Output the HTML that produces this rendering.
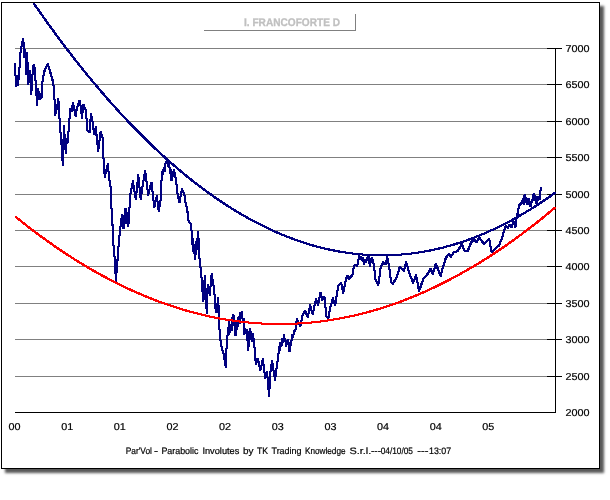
<!DOCTYPE html>
<html><head><meta charset="utf-8"><title>I. FRANCOFORTE D</title>
<style>
html,body{margin:0;padding:0;background:#fff;}
body{width:610px;height:500px;position:relative;overflow:hidden;font-family:"Liberation Sans",Arial,sans-serif;}
#frame{position:absolute;left:1px;top:2px;width:597px;height:465px;border:1px solid #000;background:#fff;box-shadow:4px 4px 2.5px 0 #585858;}
svg{position:absolute;left:0;top:0;}
svg text{font-family:"Liberation Sans",Arial,sans-serif;font-size:10px;fill:#000;text-rendering:geometricPrecision;stroke:#000;stroke-width:0.2px;}
</style></head><body>
<div id="frame"></div>
<svg width="610" height="500" viewBox="0 0 610 500">
<g shape-rendering="crispEdges">
<line x1="15" y1="48.5" x2="547" y2="48.5" stroke="#808080"/><line x1="15" y1="84.5" x2="547" y2="84.5" stroke="#808080"/><line x1="15" y1="121.5" x2="547" y2="121.5" stroke="#808080"/><line x1="15" y1="157.5" x2="547" y2="157.5" stroke="#808080"/><line x1="15" y1="194.5" x2="547" y2="194.5" stroke="#808080"/><line x1="15" y1="230.5" x2="547" y2="230.5" stroke="#808080"/><line x1="15" y1="266.5" x2="547" y2="266.5" stroke="#808080"/><line x1="15" y1="303.5" x2="547" y2="303.5" stroke="#808080"/><line x1="15" y1="339.5" x2="547" y2="339.5" stroke="#808080"/><line x1="15" y1="376.5" x2="547" y2="376.5" stroke="#808080"/>
<line x1="547" y1="48.5" x2="562" y2="48.5" stroke="#000"/><line x1="547" y1="84.5" x2="562" y2="84.5" stroke="#000"/><line x1="547" y1="121.5" x2="562" y2="121.5" stroke="#000"/><line x1="547" y1="157.5" x2="562" y2="157.5" stroke="#000"/><line x1="547" y1="194.5" x2="562" y2="194.5" stroke="#000"/><line x1="547" y1="230.5" x2="562" y2="230.5" stroke="#000"/><line x1="547" y1="266.5" x2="562" y2="266.5" stroke="#000"/><line x1="547" y1="303.5" x2="562" y2="303.5" stroke="#000"/><line x1="547" y1="339.5" x2="562" y2="339.5" stroke="#000"/><line x1="547" y1="376.5" x2="562" y2="376.5" stroke="#000"/>
<line x1="15" y1="412.5" x2="556" y2="412.5" stroke="#000"/>
<line x1="555.5" y1="48" x2="555.5" y2="413" stroke="#000"/>
<line x1="204" y1="30.5" x2="356" y2="30.5" stroke="#808080"/>
<line x1="355.5" y1="14" x2="355.5" y2="31" stroke="#808080"/>
</g>
<g shape-rendering="crispEdges" fill="none" stroke-width="1" stroke-linejoin="round" stroke-linecap="square">
<polyline transform="translate(-0.5,-0.5)" stroke="#000080" points="14.9,64.0 15.3,73.0 16.5,86.3 17.3,75.7 18.0,85.3 18.8,76.7 19.8,64.0 20.5,53.0 22.3,41.8 23.3,39.1 24.5,57.3 25.3,49.7 26.3,74.3 27.3,53.2 28.0,83.8 29.7,70.7 31.3,93.7 32.5,75.0 33.6,64.7 34.6,68.0 36.0,86.5 36.5,95.0 37.0,105.3 37.8,88.7 38.6,99.3 39.3,91.7 40.0,98.6 41.5,97.4 42.0,84.6 43.9,72.8 45.4,68.4 47.9,64.2 49.8,70.8 52.3,78.7 53.8,87.5 54.7,102.3 55.0,114.8 57.0,108.0 58.4,99.1 59.5,118.5 60.3,129.0 60.8,138.3 61.3,134.7 61.6,149.0 62.8,164.6 63.4,142.0 64.3,126.1 64.9,149.3 65.4,140.7 65.9,152.8 66.8,138.7 67.4,143.3 68.2,135.0 69.2,125.0 70.0,109.4 71.5,111.3 73.1,103.0 74.5,110.0 75.6,115.8 77.0,108.0 79.5,101.0 80.8,107.0 82.0,117.8 83.4,104.5 85.9,110.6 87.4,130.3 89.8,132.3 90.8,114.3 92.3,119.5 94.2,134.5 95.7,127.1 97.2,141.7 98.2,150.8 100.6,132.1 103.1,139.7 103.6,162.4 104.8,176.9 107.8,164.1 109.3,179.6 110.7,187.4 111.2,204.0 112.2,218.7 113.7,249.0 114.7,258.8 115.9,280.7 117.6,258.8 118.6,245.0 119.6,234.4 121.0,222.6 122.0,215.0 122.7,224.0 123.5,228.8 124.0,215.7 124.6,223.3 125.5,208.1 126.2,221.3 126.9,212.7 127.6,225.0 128.4,225.8 129.0,212.0 129.9,204.0 130.4,194.3 132.9,181.3 135.8,199.5 138.3,174.9 140.7,199.5 142.7,185.5 145.2,170.9 148.1,194.6 151.5,182.2 154.3,207.5 156.8,196.1 158.8,211.4 160.7,199.0 161.7,176.5 162.3,171.7 163.0,173.8 163.7,168.4 164.6,170.8 165.4,163.5 166.1,162.3 167.1,161.0 168.2,165.8 168.8,164.2 169.6,167.7 170.2,173.3 170.8,169.7 171.5,180.8 174.0,169.9 176.0,179.5 177.4,193.3 179.4,202.6 181.9,189.0 184.3,194.2 185.3,201.8 187.3,209.7 188.3,220.5 190.7,223.9 191.7,232.3 191.9,244.0 192.8,238.7 193.3,251.3 194.0,244.7 194.8,258.8 195.4,246.7 196.0,254.3 196.6,238.7 197.2,249.3 197.8,231.5 198.3,244.3 198.8,238.7 199.3,256.5 201.2,273.3 202.4,289.7 203.4,301.7 204.8,275.7 206.8,313.5 207.8,285.4 209.7,294.8 211.7,274.1 214.2,289.7 215.6,309.3 216.6,312.5 218.1,298.2 219.1,316.2 219.7,334.5 221.7,348.3 223.7,354.0 225.8,367.5 226.1,354.0 227.2,340.0 228.1,328.3 228.6,334.3 229.1,322.4 230.0,332.3 230.8,324.7 231.6,330.3 232.5,318.0 233.5,315.0 234.3,325.3 235.0,320.7 235.5,335.8 236.5,322.7 237.3,329.3 238.2,318.0 238.9,317.0 239.6,323.3 240.5,313.0 241.9,312.1 242.8,321.3 243.5,318.7 244.3,333.8 245.3,328.7 246.0,333.3 246.8,330.3 247.5,340.0 248.3,350.5 249.0,338.0 249.7,329.3 250.5,339.3 251.3,331.7 252.2,341.3 253.2,334.2 254.0,344.0 254.7,348.3 255.8,364.5 257.5,358.1 260.5,369.9 262.8,359.1 265.2,378.3 267.1,372.3 269.1,396.5 270.6,369.7 272.1,361.1 275.1,380.3 277.0,364.8 278.5,354.0 279.0,346.7 279.6,350.3 280.6,342.3 281.4,346.3 282.2,338.7 283.0,342.3 284.1,335.0 284.8,341.3 285.4,338.7 286.0,345.8 286.8,340.7 287.4,344.3 288.0,340.4 288.8,347.0 289.5,351.7 290.3,342.7 291.0,345.3 292.0,335.4 293.0,337.3 294.4,330.5 295.3,331.3 296.9,318.7 300.3,326.5 302.8,314.4 305.2,311.2 307.7,317.2 310.2,305.3 312.6,314.2 316.0,299.4 318.0,305.3 320.5,292.5 322.4,299.9 324.4,296.4 326.4,316.4 328.3,318.6 329.8,309.5 332.8,298.4 335.2,305.3 338.2,285.9 341.1,282.7 343.3,292.8 345.9,279.4 347.4,275.7 348.8,278.7 352.3,275.5 353.8,266.6 355.7,264.4 357.2,265.9 359.2,256.3 360.0,259.3 360.8,257.0 361.8,260.3 362.6,258.2 364.1,264.0 365.0,260.2 365.8,261.8 366.8,258.2 367.6,259.8 368.5,256.3 369.2,262.0 370.0,265.9 371.0,260.0 372.0,257.8 373.9,264.7 375.4,279.4 378.3,285.1 380.8,266.6 383.3,262.4 384.2,264.3 385.0,262.7 385.7,264.0 387.2,256.8 389.2,266.6 391.1,282.4 393.1,283.6 396.5,277.4 399.9,266.8 403.8,270.8 406.3,262.4 409.7,274.5 413.2,282.6 416.1,275.2 419.1,291.0 423.5,278.4 427.0,275.0 430.4,268.8 432.9,273.8 435.8,263.9 440.7,275.8 443.2,266.1 446.1,257.3 449.1,254.1 451.0,256.6 454.0,251.9 457.4,251.4 461.8,244.2 464.3,250.4 467.7,251.2 471.1,242.5 474.1,239.3 476.5,242.8 479.0,237.3 483.9,243.8 489.3,238.8 491.3,251.4 492.3,252.2 497.2,246.5 499.2,245.5 502.1,237.6 504.0,231.0 505.6,226.2 508.1,227.7 509.5,224.2 511.5,227.1 513.5,221.3 515.5,227.1 516.5,219.0 517.4,214.7 518.9,205.8 520.5,204.0 522.1,202.5 523.0,198.7 523.6,203.8 524.3,196.0 525.1,195.4 525.7,202.3 526.3,198.2 527.0,203.8 527.7,198.7 528.5,198.6 529.3,203.5 530.5,206.7 531.5,202.0 532.4,200.6 533.1,195.0 533.9,194.4 534.5,200.3 535.2,196.2 535.9,202.5 536.9,202.8 537.5,196.7 538.2,200.3 538.8,197.3 539.5,199.3 540.2,192.0 540.8,188.3"/>
<polyline transform="translate(0.5,-0.5)" stroke="#000080" points="14.9,64.0 15.3,73.0 16.5,86.3 17.3,75.7 18.0,85.3 18.8,76.7 19.8,64.0 20.5,53.0 22.3,41.8 23.3,39.1 24.5,57.3 25.3,49.7 26.3,74.3 27.3,53.2 28.0,83.8 29.7,70.7 31.3,93.7 32.5,75.0 33.6,64.7 34.6,68.0 36.0,86.5 36.5,95.0 37.0,105.3 37.8,88.7 38.6,99.3 39.3,91.7 40.0,98.6 41.5,97.4 42.0,84.6 43.9,72.8 45.4,68.4 47.9,64.2 49.8,70.8 52.3,78.7 53.8,87.5 54.7,102.3 55.0,114.8 57.0,108.0 58.4,99.1 59.5,118.5 60.3,129.0 60.8,138.3 61.3,134.7 61.6,149.0 62.8,164.6 63.4,142.0 64.3,126.1 64.9,149.3 65.4,140.7 65.9,152.8 66.8,138.7 67.4,143.3 68.2,135.0 69.2,125.0 70.0,109.4 71.5,111.3 73.1,103.0 74.5,110.0 75.6,115.8 77.0,108.0 79.5,101.0 80.8,107.0 82.0,117.8 83.4,104.5 85.9,110.6 87.4,130.3 89.8,132.3 90.8,114.3 92.3,119.5 94.2,134.5 95.7,127.1 97.2,141.7 98.2,150.8 100.6,132.1 103.1,139.7 103.6,162.4 104.8,176.9 107.8,164.1 109.3,179.6 110.7,187.4 111.2,204.0 112.2,218.7 113.7,249.0 114.7,258.8 115.9,280.7 117.6,258.8 118.6,245.0 119.6,234.4 121.0,222.6 122.0,215.0 122.7,224.0 123.5,228.8 124.0,215.7 124.6,223.3 125.5,208.1 126.2,221.3 126.9,212.7 127.6,225.0 128.4,225.8 129.0,212.0 129.9,204.0 130.4,194.3 132.9,181.3 135.8,199.5 138.3,174.9 140.7,199.5 142.7,185.5 145.2,170.9 148.1,194.6 151.5,182.2 154.3,207.5 156.8,196.1 158.8,211.4 160.7,199.0 161.7,176.5 162.3,171.7 163.0,173.8 163.7,168.4 164.6,170.8 165.4,163.5 166.1,162.3 167.1,161.0 168.2,165.8 168.8,164.2 169.6,167.7 170.2,173.3 170.8,169.7 171.5,180.8 174.0,169.9 176.0,179.5 177.4,193.3 179.4,202.6 181.9,189.0 184.3,194.2 185.3,201.8 187.3,209.7 188.3,220.5 190.7,223.9 191.7,232.3 191.9,244.0 192.8,238.7 193.3,251.3 194.0,244.7 194.8,258.8 195.4,246.7 196.0,254.3 196.6,238.7 197.2,249.3 197.8,231.5 198.3,244.3 198.8,238.7 199.3,256.5 201.2,273.3 202.4,289.7 203.4,301.7 204.8,275.7 206.8,313.5 207.8,285.4 209.7,294.8 211.7,274.1 214.2,289.7 215.6,309.3 216.6,312.5 218.1,298.2 219.1,316.2 219.7,334.5 221.7,348.3 223.7,354.0 225.8,367.5 226.1,354.0 227.2,340.0 228.1,328.3 228.6,334.3 229.1,322.4 230.0,332.3 230.8,324.7 231.6,330.3 232.5,318.0 233.5,315.0 234.3,325.3 235.0,320.7 235.5,335.8 236.5,322.7 237.3,329.3 238.2,318.0 238.9,317.0 239.6,323.3 240.5,313.0 241.9,312.1 242.8,321.3 243.5,318.7 244.3,333.8 245.3,328.7 246.0,333.3 246.8,330.3 247.5,340.0 248.3,350.5 249.0,338.0 249.7,329.3 250.5,339.3 251.3,331.7 252.2,341.3 253.2,334.2 254.0,344.0 254.7,348.3 255.8,364.5 257.5,358.1 260.5,369.9 262.8,359.1 265.2,378.3 267.1,372.3 269.1,396.5 270.6,369.7 272.1,361.1 275.1,380.3 277.0,364.8 278.5,354.0 279.0,346.7 279.6,350.3 280.6,342.3 281.4,346.3 282.2,338.7 283.0,342.3 284.1,335.0 284.8,341.3 285.4,338.7 286.0,345.8 286.8,340.7 287.4,344.3 288.0,340.4 288.8,347.0 289.5,351.7 290.3,342.7 291.0,345.3 292.0,335.4 293.0,337.3 294.4,330.5 295.3,331.3 296.9,318.7 300.3,326.5 302.8,314.4 305.2,311.2 307.7,317.2 310.2,305.3 312.6,314.2 316.0,299.4 318.0,305.3 320.5,292.5 322.4,299.9 324.4,296.4 326.4,316.4 328.3,318.6 329.8,309.5 332.8,298.4 335.2,305.3 338.2,285.9 341.1,282.7 343.3,292.8 345.9,279.4 347.4,275.7 348.8,278.7 352.3,275.5 353.8,266.6 355.7,264.4 357.2,265.9 359.2,256.3 360.0,259.3 360.8,257.0 361.8,260.3 362.6,258.2 364.1,264.0 365.0,260.2 365.8,261.8 366.8,258.2 367.6,259.8 368.5,256.3 369.2,262.0 370.0,265.9 371.0,260.0 372.0,257.8 373.9,264.7 375.4,279.4 378.3,285.1 380.8,266.6 383.3,262.4 384.2,264.3 385.0,262.7 385.7,264.0 387.2,256.8 389.2,266.6 391.1,282.4 393.1,283.6 396.5,277.4 399.9,266.8 403.8,270.8 406.3,262.4 409.7,274.5 413.2,282.6 416.1,275.2 419.1,291.0 423.5,278.4 427.0,275.0 430.4,268.8 432.9,273.8 435.8,263.9 440.7,275.8 443.2,266.1 446.1,257.3 449.1,254.1 451.0,256.6 454.0,251.9 457.4,251.4 461.8,244.2 464.3,250.4 467.7,251.2 471.1,242.5 474.1,239.3 476.5,242.8 479.0,237.3 483.9,243.8 489.3,238.8 491.3,251.4 492.3,252.2 497.2,246.5 499.2,245.5 502.1,237.6 504.0,231.0 505.6,226.2 508.1,227.7 509.5,224.2 511.5,227.1 513.5,221.3 515.5,227.1 516.5,219.0 517.4,214.7 518.9,205.8 520.5,204.0 522.1,202.5 523.0,198.7 523.6,203.8 524.3,196.0 525.1,195.4 525.7,202.3 526.3,198.2 527.0,203.8 527.7,198.7 528.5,198.6 529.3,203.5 530.5,206.7 531.5,202.0 532.4,200.6 533.1,195.0 533.9,194.4 534.5,200.3 535.2,196.2 535.9,202.5 536.9,202.8 537.5,196.7 538.2,200.3 538.8,197.3 539.5,199.3 540.2,192.0 540.8,188.3"/>
<polyline transform="translate(-0.5,0.5)" stroke="#000080" points="14.9,64.0 15.3,73.0 16.5,86.3 17.3,75.7 18.0,85.3 18.8,76.7 19.8,64.0 20.5,53.0 22.3,41.8 23.3,39.1 24.5,57.3 25.3,49.7 26.3,74.3 27.3,53.2 28.0,83.8 29.7,70.7 31.3,93.7 32.5,75.0 33.6,64.7 34.6,68.0 36.0,86.5 36.5,95.0 37.0,105.3 37.8,88.7 38.6,99.3 39.3,91.7 40.0,98.6 41.5,97.4 42.0,84.6 43.9,72.8 45.4,68.4 47.9,64.2 49.8,70.8 52.3,78.7 53.8,87.5 54.7,102.3 55.0,114.8 57.0,108.0 58.4,99.1 59.5,118.5 60.3,129.0 60.8,138.3 61.3,134.7 61.6,149.0 62.8,164.6 63.4,142.0 64.3,126.1 64.9,149.3 65.4,140.7 65.9,152.8 66.8,138.7 67.4,143.3 68.2,135.0 69.2,125.0 70.0,109.4 71.5,111.3 73.1,103.0 74.5,110.0 75.6,115.8 77.0,108.0 79.5,101.0 80.8,107.0 82.0,117.8 83.4,104.5 85.9,110.6 87.4,130.3 89.8,132.3 90.8,114.3 92.3,119.5 94.2,134.5 95.7,127.1 97.2,141.7 98.2,150.8 100.6,132.1 103.1,139.7 103.6,162.4 104.8,176.9 107.8,164.1 109.3,179.6 110.7,187.4 111.2,204.0 112.2,218.7 113.7,249.0 114.7,258.8 115.9,280.7 117.6,258.8 118.6,245.0 119.6,234.4 121.0,222.6 122.0,215.0 122.7,224.0 123.5,228.8 124.0,215.7 124.6,223.3 125.5,208.1 126.2,221.3 126.9,212.7 127.6,225.0 128.4,225.8 129.0,212.0 129.9,204.0 130.4,194.3 132.9,181.3 135.8,199.5 138.3,174.9 140.7,199.5 142.7,185.5 145.2,170.9 148.1,194.6 151.5,182.2 154.3,207.5 156.8,196.1 158.8,211.4 160.7,199.0 161.7,176.5 162.3,171.7 163.0,173.8 163.7,168.4 164.6,170.8 165.4,163.5 166.1,162.3 167.1,161.0 168.2,165.8 168.8,164.2 169.6,167.7 170.2,173.3 170.8,169.7 171.5,180.8 174.0,169.9 176.0,179.5 177.4,193.3 179.4,202.6 181.9,189.0 184.3,194.2 185.3,201.8 187.3,209.7 188.3,220.5 190.7,223.9 191.7,232.3 191.9,244.0 192.8,238.7 193.3,251.3 194.0,244.7 194.8,258.8 195.4,246.7 196.0,254.3 196.6,238.7 197.2,249.3 197.8,231.5 198.3,244.3 198.8,238.7 199.3,256.5 201.2,273.3 202.4,289.7 203.4,301.7 204.8,275.7 206.8,313.5 207.8,285.4 209.7,294.8 211.7,274.1 214.2,289.7 215.6,309.3 216.6,312.5 218.1,298.2 219.1,316.2 219.7,334.5 221.7,348.3 223.7,354.0 225.8,367.5 226.1,354.0 227.2,340.0 228.1,328.3 228.6,334.3 229.1,322.4 230.0,332.3 230.8,324.7 231.6,330.3 232.5,318.0 233.5,315.0 234.3,325.3 235.0,320.7 235.5,335.8 236.5,322.7 237.3,329.3 238.2,318.0 238.9,317.0 239.6,323.3 240.5,313.0 241.9,312.1 242.8,321.3 243.5,318.7 244.3,333.8 245.3,328.7 246.0,333.3 246.8,330.3 247.5,340.0 248.3,350.5 249.0,338.0 249.7,329.3 250.5,339.3 251.3,331.7 252.2,341.3 253.2,334.2 254.0,344.0 254.7,348.3 255.8,364.5 257.5,358.1 260.5,369.9 262.8,359.1 265.2,378.3 267.1,372.3 269.1,396.5 270.6,369.7 272.1,361.1 275.1,380.3 277.0,364.8 278.5,354.0 279.0,346.7 279.6,350.3 280.6,342.3 281.4,346.3 282.2,338.7 283.0,342.3 284.1,335.0 284.8,341.3 285.4,338.7 286.0,345.8 286.8,340.7 287.4,344.3 288.0,340.4 288.8,347.0 289.5,351.7 290.3,342.7 291.0,345.3 292.0,335.4 293.0,337.3 294.4,330.5 295.3,331.3 296.9,318.7 300.3,326.5 302.8,314.4 305.2,311.2 307.7,317.2 310.2,305.3 312.6,314.2 316.0,299.4 318.0,305.3 320.5,292.5 322.4,299.9 324.4,296.4 326.4,316.4 328.3,318.6 329.8,309.5 332.8,298.4 335.2,305.3 338.2,285.9 341.1,282.7 343.3,292.8 345.9,279.4 347.4,275.7 348.8,278.7 352.3,275.5 353.8,266.6 355.7,264.4 357.2,265.9 359.2,256.3 360.0,259.3 360.8,257.0 361.8,260.3 362.6,258.2 364.1,264.0 365.0,260.2 365.8,261.8 366.8,258.2 367.6,259.8 368.5,256.3 369.2,262.0 370.0,265.9 371.0,260.0 372.0,257.8 373.9,264.7 375.4,279.4 378.3,285.1 380.8,266.6 383.3,262.4 384.2,264.3 385.0,262.7 385.7,264.0 387.2,256.8 389.2,266.6 391.1,282.4 393.1,283.6 396.5,277.4 399.9,266.8 403.8,270.8 406.3,262.4 409.7,274.5 413.2,282.6 416.1,275.2 419.1,291.0 423.5,278.4 427.0,275.0 430.4,268.8 432.9,273.8 435.8,263.9 440.7,275.8 443.2,266.1 446.1,257.3 449.1,254.1 451.0,256.6 454.0,251.9 457.4,251.4 461.8,244.2 464.3,250.4 467.7,251.2 471.1,242.5 474.1,239.3 476.5,242.8 479.0,237.3 483.9,243.8 489.3,238.8 491.3,251.4 492.3,252.2 497.2,246.5 499.2,245.5 502.1,237.6 504.0,231.0 505.6,226.2 508.1,227.7 509.5,224.2 511.5,227.1 513.5,221.3 515.5,227.1 516.5,219.0 517.4,214.7 518.9,205.8 520.5,204.0 522.1,202.5 523.0,198.7 523.6,203.8 524.3,196.0 525.1,195.4 525.7,202.3 526.3,198.2 527.0,203.8 527.7,198.7 528.5,198.6 529.3,203.5 530.5,206.7 531.5,202.0 532.4,200.6 533.1,195.0 533.9,194.4 534.5,200.3 535.2,196.2 535.9,202.5 536.9,202.8 537.5,196.7 538.2,200.3 538.8,197.3 539.5,199.3 540.2,192.0 540.8,188.3"/>
<polyline transform="translate(0.5,0.5)" stroke="#000080" points="14.9,64.0 15.3,73.0 16.5,86.3 17.3,75.7 18.0,85.3 18.8,76.7 19.8,64.0 20.5,53.0 22.3,41.8 23.3,39.1 24.5,57.3 25.3,49.7 26.3,74.3 27.3,53.2 28.0,83.8 29.7,70.7 31.3,93.7 32.5,75.0 33.6,64.7 34.6,68.0 36.0,86.5 36.5,95.0 37.0,105.3 37.8,88.7 38.6,99.3 39.3,91.7 40.0,98.6 41.5,97.4 42.0,84.6 43.9,72.8 45.4,68.4 47.9,64.2 49.8,70.8 52.3,78.7 53.8,87.5 54.7,102.3 55.0,114.8 57.0,108.0 58.4,99.1 59.5,118.5 60.3,129.0 60.8,138.3 61.3,134.7 61.6,149.0 62.8,164.6 63.4,142.0 64.3,126.1 64.9,149.3 65.4,140.7 65.9,152.8 66.8,138.7 67.4,143.3 68.2,135.0 69.2,125.0 70.0,109.4 71.5,111.3 73.1,103.0 74.5,110.0 75.6,115.8 77.0,108.0 79.5,101.0 80.8,107.0 82.0,117.8 83.4,104.5 85.9,110.6 87.4,130.3 89.8,132.3 90.8,114.3 92.3,119.5 94.2,134.5 95.7,127.1 97.2,141.7 98.2,150.8 100.6,132.1 103.1,139.7 103.6,162.4 104.8,176.9 107.8,164.1 109.3,179.6 110.7,187.4 111.2,204.0 112.2,218.7 113.7,249.0 114.7,258.8 115.9,280.7 117.6,258.8 118.6,245.0 119.6,234.4 121.0,222.6 122.0,215.0 122.7,224.0 123.5,228.8 124.0,215.7 124.6,223.3 125.5,208.1 126.2,221.3 126.9,212.7 127.6,225.0 128.4,225.8 129.0,212.0 129.9,204.0 130.4,194.3 132.9,181.3 135.8,199.5 138.3,174.9 140.7,199.5 142.7,185.5 145.2,170.9 148.1,194.6 151.5,182.2 154.3,207.5 156.8,196.1 158.8,211.4 160.7,199.0 161.7,176.5 162.3,171.7 163.0,173.8 163.7,168.4 164.6,170.8 165.4,163.5 166.1,162.3 167.1,161.0 168.2,165.8 168.8,164.2 169.6,167.7 170.2,173.3 170.8,169.7 171.5,180.8 174.0,169.9 176.0,179.5 177.4,193.3 179.4,202.6 181.9,189.0 184.3,194.2 185.3,201.8 187.3,209.7 188.3,220.5 190.7,223.9 191.7,232.3 191.9,244.0 192.8,238.7 193.3,251.3 194.0,244.7 194.8,258.8 195.4,246.7 196.0,254.3 196.6,238.7 197.2,249.3 197.8,231.5 198.3,244.3 198.8,238.7 199.3,256.5 201.2,273.3 202.4,289.7 203.4,301.7 204.8,275.7 206.8,313.5 207.8,285.4 209.7,294.8 211.7,274.1 214.2,289.7 215.6,309.3 216.6,312.5 218.1,298.2 219.1,316.2 219.7,334.5 221.7,348.3 223.7,354.0 225.8,367.5 226.1,354.0 227.2,340.0 228.1,328.3 228.6,334.3 229.1,322.4 230.0,332.3 230.8,324.7 231.6,330.3 232.5,318.0 233.5,315.0 234.3,325.3 235.0,320.7 235.5,335.8 236.5,322.7 237.3,329.3 238.2,318.0 238.9,317.0 239.6,323.3 240.5,313.0 241.9,312.1 242.8,321.3 243.5,318.7 244.3,333.8 245.3,328.7 246.0,333.3 246.8,330.3 247.5,340.0 248.3,350.5 249.0,338.0 249.7,329.3 250.5,339.3 251.3,331.7 252.2,341.3 253.2,334.2 254.0,344.0 254.7,348.3 255.8,364.5 257.5,358.1 260.5,369.9 262.8,359.1 265.2,378.3 267.1,372.3 269.1,396.5 270.6,369.7 272.1,361.1 275.1,380.3 277.0,364.8 278.5,354.0 279.0,346.7 279.6,350.3 280.6,342.3 281.4,346.3 282.2,338.7 283.0,342.3 284.1,335.0 284.8,341.3 285.4,338.7 286.0,345.8 286.8,340.7 287.4,344.3 288.0,340.4 288.8,347.0 289.5,351.7 290.3,342.7 291.0,345.3 292.0,335.4 293.0,337.3 294.4,330.5 295.3,331.3 296.9,318.7 300.3,326.5 302.8,314.4 305.2,311.2 307.7,317.2 310.2,305.3 312.6,314.2 316.0,299.4 318.0,305.3 320.5,292.5 322.4,299.9 324.4,296.4 326.4,316.4 328.3,318.6 329.8,309.5 332.8,298.4 335.2,305.3 338.2,285.9 341.1,282.7 343.3,292.8 345.9,279.4 347.4,275.7 348.8,278.7 352.3,275.5 353.8,266.6 355.7,264.4 357.2,265.9 359.2,256.3 360.0,259.3 360.8,257.0 361.8,260.3 362.6,258.2 364.1,264.0 365.0,260.2 365.8,261.8 366.8,258.2 367.6,259.8 368.5,256.3 369.2,262.0 370.0,265.9 371.0,260.0 372.0,257.8 373.9,264.7 375.4,279.4 378.3,285.1 380.8,266.6 383.3,262.4 384.2,264.3 385.0,262.7 385.7,264.0 387.2,256.8 389.2,266.6 391.1,282.4 393.1,283.6 396.5,277.4 399.9,266.8 403.8,270.8 406.3,262.4 409.7,274.5 413.2,282.6 416.1,275.2 419.1,291.0 423.5,278.4 427.0,275.0 430.4,268.8 432.9,273.8 435.8,263.9 440.7,275.8 443.2,266.1 446.1,257.3 449.1,254.1 451.0,256.6 454.0,251.9 457.4,251.4 461.8,244.2 464.3,250.4 467.7,251.2 471.1,242.5 474.1,239.3 476.5,242.8 479.0,237.3 483.9,243.8 489.3,238.8 491.3,251.4 492.3,252.2 497.2,246.5 499.2,245.5 502.1,237.6 504.0,231.0 505.6,226.2 508.1,227.7 509.5,224.2 511.5,227.1 513.5,221.3 515.5,227.1 516.5,219.0 517.4,214.7 518.9,205.8 520.5,204.0 522.1,202.5 523.0,198.7 523.6,203.8 524.3,196.0 525.1,195.4 525.7,202.3 526.3,198.2 527.0,203.8 527.7,198.7 528.5,198.6 529.3,203.5 530.5,206.7 531.5,202.0 532.4,200.6 533.1,195.0 533.9,194.4 534.5,200.3 535.2,196.2 535.9,202.5 536.9,202.8 537.5,196.7 538.2,200.3 538.8,197.3 539.5,199.3 540.2,192.0 540.8,188.3"/>
<polyline transform="translate(-0.5,-0.5)" stroke="#000080" points="34.0,3.7 37.0,8.0 40.0,12.3 43.0,16.5 46.0,20.8 49.0,24.9 52.0,29.1 55.0,33.2 58.0,37.2 61.0,41.2 64.0,45.2 67.0,49.2 70.0,53.1 73.0,57.0 76.0,60.8 79.0,64.6 82.0,68.3 85.0,72.1 88.0,75.8 91.0,79.4 94.0,83.0 97.0,86.6 100.0,90.1 103.0,93.6 106.0,97.1 109.0,100.5 112.0,103.9 115.0,107.2 118.0,110.6 121.0,113.8 124.0,117.1 127.0,120.3 130.0,123.4 133.0,126.5 136.0,129.6 139.0,132.7 142.0,135.7 145.0,138.7 148.0,141.6 151.0,144.5 154.0,147.4 157.0,150.2 160.0,153.0 163.0,155.7 166.0,158.4 169.0,161.1 172.0,163.7 175.0,166.3 178.0,168.9 181.0,171.4 184.0,173.9 187.0,176.4 190.0,178.8 193.0,181.2 196.0,183.5 199.0,185.8 202.0,188.1 205.0,190.3 208.0,192.5 211.0,194.6 214.0,196.7 217.0,198.8 220.0,200.8 223.0,202.8 226.0,204.8 229.0,206.7 232.0,208.6 235.0,210.5 238.0,212.3 241.0,214.1 244.0,215.8 247.0,217.5 250.0,219.2 253.0,220.8 256.0,222.4 259.0,223.9 262.0,225.4 265.0,226.9 268.0,228.4 271.0,229.8 274.0,231.1 277.0,232.5 280.0,233.7 283.0,235.0 286.0,236.2 289.0,237.4 292.0,238.5 295.0,239.6 298.0,240.7 301.0,241.7 304.0,242.7 307.0,243.7 310.0,244.6 313.0,245.5 316.0,246.3 319.0,247.1 322.0,247.9 325.0,248.6 328.0,249.3 331.0,249.9 334.0,250.5 337.0,251.1 340.0,251.7 343.0,252.2 346.0,252.6 349.0,253.1 352.0,253.5 355.0,253.8 358.0,254.1 361.0,254.4 364.0,254.6 367.0,254.8 370.0,255.0 373.0,255.1 376.0,255.2 379.0,255.3 382.0,255.3 385.0,255.3 388.0,255.2 391.0,255.1 394.0,255.0 397.0,254.8 400.0,254.6 403.0,254.4 406.0,254.1 409.0,253.8 412.0,253.4 415.0,253.0 418.0,252.6 421.0,252.1 424.0,251.6 427.0,251.1 430.0,250.5 433.0,249.8 436.0,249.2 439.0,248.5 442.0,247.8 445.0,247.0 448.0,246.2 451.0,245.3 454.0,244.5 457.0,243.5 460.0,242.6 463.0,241.6 466.0,240.6 469.0,239.5 472.0,238.4 475.0,237.2 478.0,236.1 481.0,234.8 484.0,233.6 487.0,232.3 490.0,230.9 493.0,229.6 496.0,228.2 499.0,226.7 502.0,225.2 505.0,223.7 508.0,222.2 511.0,220.6 514.0,218.9 517.0,217.3 520.0,215.6 523.0,213.8 526.0,212.0 529.0,210.2 532.0,208.4 535.0,206.5 538.0,204.6 541.0,202.6 544.0,200.6 547.0,198.5 550.0,196.5 553.0,194.3 555.0,192.9"/>
<polyline transform="translate(0.5,-0.5)" stroke="#000080" points="34.0,3.7 37.0,8.0 40.0,12.3 43.0,16.5 46.0,20.8 49.0,24.9 52.0,29.1 55.0,33.2 58.0,37.2 61.0,41.2 64.0,45.2 67.0,49.2 70.0,53.1 73.0,57.0 76.0,60.8 79.0,64.6 82.0,68.3 85.0,72.1 88.0,75.8 91.0,79.4 94.0,83.0 97.0,86.6 100.0,90.1 103.0,93.6 106.0,97.1 109.0,100.5 112.0,103.9 115.0,107.2 118.0,110.6 121.0,113.8 124.0,117.1 127.0,120.3 130.0,123.4 133.0,126.5 136.0,129.6 139.0,132.7 142.0,135.7 145.0,138.7 148.0,141.6 151.0,144.5 154.0,147.4 157.0,150.2 160.0,153.0 163.0,155.7 166.0,158.4 169.0,161.1 172.0,163.7 175.0,166.3 178.0,168.9 181.0,171.4 184.0,173.9 187.0,176.4 190.0,178.8 193.0,181.2 196.0,183.5 199.0,185.8 202.0,188.1 205.0,190.3 208.0,192.5 211.0,194.6 214.0,196.7 217.0,198.8 220.0,200.8 223.0,202.8 226.0,204.8 229.0,206.7 232.0,208.6 235.0,210.5 238.0,212.3 241.0,214.1 244.0,215.8 247.0,217.5 250.0,219.2 253.0,220.8 256.0,222.4 259.0,223.9 262.0,225.4 265.0,226.9 268.0,228.4 271.0,229.8 274.0,231.1 277.0,232.5 280.0,233.7 283.0,235.0 286.0,236.2 289.0,237.4 292.0,238.5 295.0,239.6 298.0,240.7 301.0,241.7 304.0,242.7 307.0,243.7 310.0,244.6 313.0,245.5 316.0,246.3 319.0,247.1 322.0,247.9 325.0,248.6 328.0,249.3 331.0,249.9 334.0,250.5 337.0,251.1 340.0,251.7 343.0,252.2 346.0,252.6 349.0,253.1 352.0,253.5 355.0,253.8 358.0,254.1 361.0,254.4 364.0,254.6 367.0,254.8 370.0,255.0 373.0,255.1 376.0,255.2 379.0,255.3 382.0,255.3 385.0,255.3 388.0,255.2 391.0,255.1 394.0,255.0 397.0,254.8 400.0,254.6 403.0,254.4 406.0,254.1 409.0,253.8 412.0,253.4 415.0,253.0 418.0,252.6 421.0,252.1 424.0,251.6 427.0,251.1 430.0,250.5 433.0,249.8 436.0,249.2 439.0,248.5 442.0,247.8 445.0,247.0 448.0,246.2 451.0,245.3 454.0,244.5 457.0,243.5 460.0,242.6 463.0,241.6 466.0,240.6 469.0,239.5 472.0,238.4 475.0,237.2 478.0,236.1 481.0,234.8 484.0,233.6 487.0,232.3 490.0,230.9 493.0,229.6 496.0,228.2 499.0,226.7 502.0,225.2 505.0,223.7 508.0,222.2 511.0,220.6 514.0,218.9 517.0,217.3 520.0,215.6 523.0,213.8 526.0,212.0 529.0,210.2 532.0,208.4 535.0,206.5 538.0,204.6 541.0,202.6 544.0,200.6 547.0,198.5 550.0,196.5 553.0,194.3 555.0,192.9"/>
<polyline transform="translate(-0.5,0.5)" stroke="#000080" points="34.0,3.7 37.0,8.0 40.0,12.3 43.0,16.5 46.0,20.8 49.0,24.9 52.0,29.1 55.0,33.2 58.0,37.2 61.0,41.2 64.0,45.2 67.0,49.2 70.0,53.1 73.0,57.0 76.0,60.8 79.0,64.6 82.0,68.3 85.0,72.1 88.0,75.8 91.0,79.4 94.0,83.0 97.0,86.6 100.0,90.1 103.0,93.6 106.0,97.1 109.0,100.5 112.0,103.9 115.0,107.2 118.0,110.6 121.0,113.8 124.0,117.1 127.0,120.3 130.0,123.4 133.0,126.5 136.0,129.6 139.0,132.7 142.0,135.7 145.0,138.7 148.0,141.6 151.0,144.5 154.0,147.4 157.0,150.2 160.0,153.0 163.0,155.7 166.0,158.4 169.0,161.1 172.0,163.7 175.0,166.3 178.0,168.9 181.0,171.4 184.0,173.9 187.0,176.4 190.0,178.8 193.0,181.2 196.0,183.5 199.0,185.8 202.0,188.1 205.0,190.3 208.0,192.5 211.0,194.6 214.0,196.7 217.0,198.8 220.0,200.8 223.0,202.8 226.0,204.8 229.0,206.7 232.0,208.6 235.0,210.5 238.0,212.3 241.0,214.1 244.0,215.8 247.0,217.5 250.0,219.2 253.0,220.8 256.0,222.4 259.0,223.9 262.0,225.4 265.0,226.9 268.0,228.4 271.0,229.8 274.0,231.1 277.0,232.5 280.0,233.7 283.0,235.0 286.0,236.2 289.0,237.4 292.0,238.5 295.0,239.6 298.0,240.7 301.0,241.7 304.0,242.7 307.0,243.7 310.0,244.6 313.0,245.5 316.0,246.3 319.0,247.1 322.0,247.9 325.0,248.6 328.0,249.3 331.0,249.9 334.0,250.5 337.0,251.1 340.0,251.7 343.0,252.2 346.0,252.6 349.0,253.1 352.0,253.5 355.0,253.8 358.0,254.1 361.0,254.4 364.0,254.6 367.0,254.8 370.0,255.0 373.0,255.1 376.0,255.2 379.0,255.3 382.0,255.3 385.0,255.3 388.0,255.2 391.0,255.1 394.0,255.0 397.0,254.8 400.0,254.6 403.0,254.4 406.0,254.1 409.0,253.8 412.0,253.4 415.0,253.0 418.0,252.6 421.0,252.1 424.0,251.6 427.0,251.1 430.0,250.5 433.0,249.8 436.0,249.2 439.0,248.5 442.0,247.8 445.0,247.0 448.0,246.2 451.0,245.3 454.0,244.5 457.0,243.5 460.0,242.6 463.0,241.6 466.0,240.6 469.0,239.5 472.0,238.4 475.0,237.2 478.0,236.1 481.0,234.8 484.0,233.6 487.0,232.3 490.0,230.9 493.0,229.6 496.0,228.2 499.0,226.7 502.0,225.2 505.0,223.7 508.0,222.2 511.0,220.6 514.0,218.9 517.0,217.3 520.0,215.6 523.0,213.8 526.0,212.0 529.0,210.2 532.0,208.4 535.0,206.5 538.0,204.6 541.0,202.6 544.0,200.6 547.0,198.5 550.0,196.5 553.0,194.3 555.0,192.9"/>
<polyline transform="translate(0.5,0.5)" stroke="#000080" points="34.0,3.7 37.0,8.0 40.0,12.3 43.0,16.5 46.0,20.8 49.0,24.9 52.0,29.1 55.0,33.2 58.0,37.2 61.0,41.2 64.0,45.2 67.0,49.2 70.0,53.1 73.0,57.0 76.0,60.8 79.0,64.6 82.0,68.3 85.0,72.1 88.0,75.8 91.0,79.4 94.0,83.0 97.0,86.6 100.0,90.1 103.0,93.6 106.0,97.1 109.0,100.5 112.0,103.9 115.0,107.2 118.0,110.6 121.0,113.8 124.0,117.1 127.0,120.3 130.0,123.4 133.0,126.5 136.0,129.6 139.0,132.7 142.0,135.7 145.0,138.7 148.0,141.6 151.0,144.5 154.0,147.4 157.0,150.2 160.0,153.0 163.0,155.7 166.0,158.4 169.0,161.1 172.0,163.7 175.0,166.3 178.0,168.9 181.0,171.4 184.0,173.9 187.0,176.4 190.0,178.8 193.0,181.2 196.0,183.5 199.0,185.8 202.0,188.1 205.0,190.3 208.0,192.5 211.0,194.6 214.0,196.7 217.0,198.8 220.0,200.8 223.0,202.8 226.0,204.8 229.0,206.7 232.0,208.6 235.0,210.5 238.0,212.3 241.0,214.1 244.0,215.8 247.0,217.5 250.0,219.2 253.0,220.8 256.0,222.4 259.0,223.9 262.0,225.4 265.0,226.9 268.0,228.4 271.0,229.8 274.0,231.1 277.0,232.5 280.0,233.7 283.0,235.0 286.0,236.2 289.0,237.4 292.0,238.5 295.0,239.6 298.0,240.7 301.0,241.7 304.0,242.7 307.0,243.7 310.0,244.6 313.0,245.5 316.0,246.3 319.0,247.1 322.0,247.9 325.0,248.6 328.0,249.3 331.0,249.9 334.0,250.5 337.0,251.1 340.0,251.7 343.0,252.2 346.0,252.6 349.0,253.1 352.0,253.5 355.0,253.8 358.0,254.1 361.0,254.4 364.0,254.6 367.0,254.8 370.0,255.0 373.0,255.1 376.0,255.2 379.0,255.3 382.0,255.3 385.0,255.3 388.0,255.2 391.0,255.1 394.0,255.0 397.0,254.8 400.0,254.6 403.0,254.4 406.0,254.1 409.0,253.8 412.0,253.4 415.0,253.0 418.0,252.6 421.0,252.1 424.0,251.6 427.0,251.1 430.0,250.5 433.0,249.8 436.0,249.2 439.0,248.5 442.0,247.8 445.0,247.0 448.0,246.2 451.0,245.3 454.0,244.5 457.0,243.5 460.0,242.6 463.0,241.6 466.0,240.6 469.0,239.5 472.0,238.4 475.0,237.2 478.0,236.1 481.0,234.8 484.0,233.6 487.0,232.3 490.0,230.9 493.0,229.6 496.0,228.2 499.0,226.7 502.0,225.2 505.0,223.7 508.0,222.2 511.0,220.6 514.0,218.9 517.0,217.3 520.0,215.6 523.0,213.8 526.0,212.0 529.0,210.2 532.0,208.4 535.0,206.5 538.0,204.6 541.0,202.6 544.0,200.6 547.0,198.5 550.0,196.5 553.0,194.3 555.0,192.9"/>
<polyline transform="translate(-0.5,-0.5)" stroke="#ff0000" points="15.3,216.5 18.3,219.0 21.3,221.4 24.3,223.7 27.3,226.1 30.3,228.4 33.3,230.7 36.3,232.9 39.3,235.2 42.3,237.4 45.3,239.5 48.3,241.7 51.3,243.8 54.3,245.9 57.3,248.0 60.3,250.0 63.3,252.0 66.3,254.0 69.3,255.9 72.3,257.9 75.3,259.8 78.3,261.6 81.3,263.5 84.3,265.3 87.3,267.1 90.3,268.8 93.3,270.6 96.3,272.3 99.3,274.0 102.3,275.6 105.3,277.2 108.3,278.8 111.3,280.4 114.3,281.9 117.3,283.4 120.3,284.9 123.3,286.4 126.3,287.8 129.3,289.2 132.3,290.6 135.3,291.9 138.3,293.2 141.3,294.5 144.3,295.8 147.3,297.0 150.3,298.2 153.3,299.4 156.3,300.6 159.3,301.7 162.3,302.8 165.3,303.9 168.3,304.9 171.3,305.9 174.3,306.9 177.3,307.9 180.3,308.8 183.3,309.7 186.3,310.6 189.3,311.4 192.3,312.2 195.3,313.0 198.3,313.8 201.3,314.5 204.3,315.2 207.3,315.9 210.3,316.6 213.3,317.2 216.3,317.8 219.3,318.4 222.3,318.9 225.3,319.4 228.3,319.9 231.3,320.4 234.3,320.8 237.3,321.2 240.3,321.6 243.3,322.0 246.3,322.3 249.3,322.6 252.3,322.8 255.3,323.1 258.3,323.3 261.3,323.5 264.3,323.6 267.3,323.8 270.3,323.9 273.3,323.9 276.3,324.0 279.3,324.0 282.3,324.0 285.3,324.0 288.3,323.9 291.3,323.8 294.3,323.7 297.3,323.5 300.3,323.4 303.3,323.2 306.3,322.9 309.3,322.7 312.3,322.4 315.3,322.1 318.3,321.7 321.3,321.4 324.3,321.0 327.3,320.5 330.3,320.1 333.3,319.6 336.3,319.1 339.3,318.6 342.3,318.0 345.3,317.4 348.3,316.8 351.3,316.1 354.3,315.5 357.3,314.8 360.3,314.0 363.3,313.3 366.3,312.5 369.3,311.7 372.3,310.9 375.3,310.0 378.3,309.1 381.3,308.2 384.3,307.2 387.3,306.2 390.3,305.2 393.3,304.2 396.3,303.2 399.3,302.1 402.3,301.0 405.3,299.8 408.3,298.6 411.3,297.4 414.3,296.2 417.3,295.0 420.3,293.7 423.3,292.4 426.3,291.0 429.3,289.7 432.3,288.3 435.3,286.9 438.3,285.4 441.3,283.9 444.3,282.4 447.3,280.9 450.3,279.3 453.3,277.8 456.3,276.2 459.3,274.5 462.3,272.8 465.3,271.1 468.3,269.4 471.3,267.7 474.3,265.9 477.3,264.1 480.3,262.3 483.3,260.4 486.3,258.5 489.3,256.6 492.3,254.6 495.3,252.7 498.3,250.7 501.3,248.6 504.3,246.6 507.3,244.5 510.3,242.4 513.3,240.3 516.3,238.1 519.3,235.9 522.3,233.7 525.3,231.4 528.3,229.1 531.3,226.8 534.3,224.5 537.3,222.2 540.3,219.8 543.3,217.4 546.3,214.9 549.3,212.4 552.3,209.9 555.0,207.7"/>
<polyline transform="translate(0.5,-0.5)" stroke="#ff0000" points="15.3,216.5 18.3,219.0 21.3,221.4 24.3,223.7 27.3,226.1 30.3,228.4 33.3,230.7 36.3,232.9 39.3,235.2 42.3,237.4 45.3,239.5 48.3,241.7 51.3,243.8 54.3,245.9 57.3,248.0 60.3,250.0 63.3,252.0 66.3,254.0 69.3,255.9 72.3,257.9 75.3,259.8 78.3,261.6 81.3,263.5 84.3,265.3 87.3,267.1 90.3,268.8 93.3,270.6 96.3,272.3 99.3,274.0 102.3,275.6 105.3,277.2 108.3,278.8 111.3,280.4 114.3,281.9 117.3,283.4 120.3,284.9 123.3,286.4 126.3,287.8 129.3,289.2 132.3,290.6 135.3,291.9 138.3,293.2 141.3,294.5 144.3,295.8 147.3,297.0 150.3,298.2 153.3,299.4 156.3,300.6 159.3,301.7 162.3,302.8 165.3,303.9 168.3,304.9 171.3,305.9 174.3,306.9 177.3,307.9 180.3,308.8 183.3,309.7 186.3,310.6 189.3,311.4 192.3,312.2 195.3,313.0 198.3,313.8 201.3,314.5 204.3,315.2 207.3,315.9 210.3,316.6 213.3,317.2 216.3,317.8 219.3,318.4 222.3,318.9 225.3,319.4 228.3,319.9 231.3,320.4 234.3,320.8 237.3,321.2 240.3,321.6 243.3,322.0 246.3,322.3 249.3,322.6 252.3,322.8 255.3,323.1 258.3,323.3 261.3,323.5 264.3,323.6 267.3,323.8 270.3,323.9 273.3,323.9 276.3,324.0 279.3,324.0 282.3,324.0 285.3,324.0 288.3,323.9 291.3,323.8 294.3,323.7 297.3,323.5 300.3,323.4 303.3,323.2 306.3,322.9 309.3,322.7 312.3,322.4 315.3,322.1 318.3,321.7 321.3,321.4 324.3,321.0 327.3,320.5 330.3,320.1 333.3,319.6 336.3,319.1 339.3,318.6 342.3,318.0 345.3,317.4 348.3,316.8 351.3,316.1 354.3,315.5 357.3,314.8 360.3,314.0 363.3,313.3 366.3,312.5 369.3,311.7 372.3,310.9 375.3,310.0 378.3,309.1 381.3,308.2 384.3,307.2 387.3,306.2 390.3,305.2 393.3,304.2 396.3,303.2 399.3,302.1 402.3,301.0 405.3,299.8 408.3,298.6 411.3,297.4 414.3,296.2 417.3,295.0 420.3,293.7 423.3,292.4 426.3,291.0 429.3,289.7 432.3,288.3 435.3,286.9 438.3,285.4 441.3,283.9 444.3,282.4 447.3,280.9 450.3,279.3 453.3,277.8 456.3,276.2 459.3,274.5 462.3,272.8 465.3,271.1 468.3,269.4 471.3,267.7 474.3,265.9 477.3,264.1 480.3,262.3 483.3,260.4 486.3,258.5 489.3,256.6 492.3,254.6 495.3,252.7 498.3,250.7 501.3,248.6 504.3,246.6 507.3,244.5 510.3,242.4 513.3,240.3 516.3,238.1 519.3,235.9 522.3,233.7 525.3,231.4 528.3,229.1 531.3,226.8 534.3,224.5 537.3,222.2 540.3,219.8 543.3,217.4 546.3,214.9 549.3,212.4 552.3,209.9 555.0,207.7"/>
<polyline transform="translate(-0.5,0.5)" stroke="#ff0000" points="15.3,216.5 18.3,219.0 21.3,221.4 24.3,223.7 27.3,226.1 30.3,228.4 33.3,230.7 36.3,232.9 39.3,235.2 42.3,237.4 45.3,239.5 48.3,241.7 51.3,243.8 54.3,245.9 57.3,248.0 60.3,250.0 63.3,252.0 66.3,254.0 69.3,255.9 72.3,257.9 75.3,259.8 78.3,261.6 81.3,263.5 84.3,265.3 87.3,267.1 90.3,268.8 93.3,270.6 96.3,272.3 99.3,274.0 102.3,275.6 105.3,277.2 108.3,278.8 111.3,280.4 114.3,281.9 117.3,283.4 120.3,284.9 123.3,286.4 126.3,287.8 129.3,289.2 132.3,290.6 135.3,291.9 138.3,293.2 141.3,294.5 144.3,295.8 147.3,297.0 150.3,298.2 153.3,299.4 156.3,300.6 159.3,301.7 162.3,302.8 165.3,303.9 168.3,304.9 171.3,305.9 174.3,306.9 177.3,307.9 180.3,308.8 183.3,309.7 186.3,310.6 189.3,311.4 192.3,312.2 195.3,313.0 198.3,313.8 201.3,314.5 204.3,315.2 207.3,315.9 210.3,316.6 213.3,317.2 216.3,317.8 219.3,318.4 222.3,318.9 225.3,319.4 228.3,319.9 231.3,320.4 234.3,320.8 237.3,321.2 240.3,321.6 243.3,322.0 246.3,322.3 249.3,322.6 252.3,322.8 255.3,323.1 258.3,323.3 261.3,323.5 264.3,323.6 267.3,323.8 270.3,323.9 273.3,323.9 276.3,324.0 279.3,324.0 282.3,324.0 285.3,324.0 288.3,323.9 291.3,323.8 294.3,323.7 297.3,323.5 300.3,323.4 303.3,323.2 306.3,322.9 309.3,322.7 312.3,322.4 315.3,322.1 318.3,321.7 321.3,321.4 324.3,321.0 327.3,320.5 330.3,320.1 333.3,319.6 336.3,319.1 339.3,318.6 342.3,318.0 345.3,317.4 348.3,316.8 351.3,316.1 354.3,315.5 357.3,314.8 360.3,314.0 363.3,313.3 366.3,312.5 369.3,311.7 372.3,310.9 375.3,310.0 378.3,309.1 381.3,308.2 384.3,307.2 387.3,306.2 390.3,305.2 393.3,304.2 396.3,303.2 399.3,302.1 402.3,301.0 405.3,299.8 408.3,298.6 411.3,297.4 414.3,296.2 417.3,295.0 420.3,293.7 423.3,292.4 426.3,291.0 429.3,289.7 432.3,288.3 435.3,286.9 438.3,285.4 441.3,283.9 444.3,282.4 447.3,280.9 450.3,279.3 453.3,277.8 456.3,276.2 459.3,274.5 462.3,272.8 465.3,271.1 468.3,269.4 471.3,267.7 474.3,265.9 477.3,264.1 480.3,262.3 483.3,260.4 486.3,258.5 489.3,256.6 492.3,254.6 495.3,252.7 498.3,250.7 501.3,248.6 504.3,246.6 507.3,244.5 510.3,242.4 513.3,240.3 516.3,238.1 519.3,235.9 522.3,233.7 525.3,231.4 528.3,229.1 531.3,226.8 534.3,224.5 537.3,222.2 540.3,219.8 543.3,217.4 546.3,214.9 549.3,212.4 552.3,209.9 555.0,207.7"/>
<polyline transform="translate(0.5,0.5)" stroke="#ff0000" points="15.3,216.5 18.3,219.0 21.3,221.4 24.3,223.7 27.3,226.1 30.3,228.4 33.3,230.7 36.3,232.9 39.3,235.2 42.3,237.4 45.3,239.5 48.3,241.7 51.3,243.8 54.3,245.9 57.3,248.0 60.3,250.0 63.3,252.0 66.3,254.0 69.3,255.9 72.3,257.9 75.3,259.8 78.3,261.6 81.3,263.5 84.3,265.3 87.3,267.1 90.3,268.8 93.3,270.6 96.3,272.3 99.3,274.0 102.3,275.6 105.3,277.2 108.3,278.8 111.3,280.4 114.3,281.9 117.3,283.4 120.3,284.9 123.3,286.4 126.3,287.8 129.3,289.2 132.3,290.6 135.3,291.9 138.3,293.2 141.3,294.5 144.3,295.8 147.3,297.0 150.3,298.2 153.3,299.4 156.3,300.6 159.3,301.7 162.3,302.8 165.3,303.9 168.3,304.9 171.3,305.9 174.3,306.9 177.3,307.9 180.3,308.8 183.3,309.7 186.3,310.6 189.3,311.4 192.3,312.2 195.3,313.0 198.3,313.8 201.3,314.5 204.3,315.2 207.3,315.9 210.3,316.6 213.3,317.2 216.3,317.8 219.3,318.4 222.3,318.9 225.3,319.4 228.3,319.9 231.3,320.4 234.3,320.8 237.3,321.2 240.3,321.6 243.3,322.0 246.3,322.3 249.3,322.6 252.3,322.8 255.3,323.1 258.3,323.3 261.3,323.5 264.3,323.6 267.3,323.8 270.3,323.9 273.3,323.9 276.3,324.0 279.3,324.0 282.3,324.0 285.3,324.0 288.3,323.9 291.3,323.8 294.3,323.7 297.3,323.5 300.3,323.4 303.3,323.2 306.3,322.9 309.3,322.7 312.3,322.4 315.3,322.1 318.3,321.7 321.3,321.4 324.3,321.0 327.3,320.5 330.3,320.1 333.3,319.6 336.3,319.1 339.3,318.6 342.3,318.0 345.3,317.4 348.3,316.8 351.3,316.1 354.3,315.5 357.3,314.8 360.3,314.0 363.3,313.3 366.3,312.5 369.3,311.7 372.3,310.9 375.3,310.0 378.3,309.1 381.3,308.2 384.3,307.2 387.3,306.2 390.3,305.2 393.3,304.2 396.3,303.2 399.3,302.1 402.3,301.0 405.3,299.8 408.3,298.6 411.3,297.4 414.3,296.2 417.3,295.0 420.3,293.7 423.3,292.4 426.3,291.0 429.3,289.7 432.3,288.3 435.3,286.9 438.3,285.4 441.3,283.9 444.3,282.4 447.3,280.9 450.3,279.3 453.3,277.8 456.3,276.2 459.3,274.5 462.3,272.8 465.3,271.1 468.3,269.4 471.3,267.7 474.3,265.9 477.3,264.1 480.3,262.3 483.3,260.4 486.3,258.5 489.3,256.6 492.3,254.6 495.3,252.7 498.3,250.7 501.3,248.6 504.3,246.6 507.3,244.5 510.3,242.4 513.3,240.3 516.3,238.1 519.3,235.9 522.3,233.7 525.3,231.4 528.3,229.1 531.3,226.8 534.3,224.5 537.3,222.2 540.3,219.8 543.3,217.4 546.3,214.9 549.3,212.4 552.3,209.9 555.0,207.7"/>
</g>
<text x="244" y="26" style="font-weight:bold;font-size:11px;fill:#c0c0c0;stroke:#c0c0c0;stroke-width:0.3px" textLength="96" lengthAdjust="spacingAndGlyphs">I. FRANCOFORTE D</text>
<text transform="translate(565.5,52) scale(1.08,1)">7000</text><text transform="translate(565.5,88) scale(1.08,1)">6500</text><text transform="translate(565.5,125) scale(1.08,1)">6000</text><text transform="translate(565.5,161) scale(1.08,1)">5500</text><text transform="translate(565.5,198) scale(1.08,1)">5000</text><text transform="translate(565.5,234) scale(1.08,1)">4500</text><text transform="translate(565.5,270) scale(1.08,1)">4000</text><text transform="translate(565.5,307) scale(1.08,1)">3500</text><text transform="translate(565.5,343) scale(1.08,1)">3000</text><text transform="translate(565.5,380) scale(1.08,1)">2500</text><text transform="translate(565.5,416) scale(1.08,1)">2000</text>
<text transform="translate(14.5,430.3) scale(1.08,1)" text-anchor="middle">00</text><text transform="translate(67.2,430.3) scale(1.08,1)" text-anchor="middle">01</text><text transform="translate(119.8,430.3) scale(1.08,1)" text-anchor="middle">01</text><text transform="translate(172.4,430.3) scale(1.08,1)" text-anchor="middle">02</text><text transform="translate(225.1,430.3) scale(1.08,1)" text-anchor="middle">02</text><text transform="translate(277.8,430.3) scale(1.08,1)" text-anchor="middle">03</text><text transform="translate(330.4,430.3) scale(1.08,1)" text-anchor="middle">03</text><text transform="translate(383.1,430.3) scale(1.08,1)" text-anchor="middle">04</text><text transform="translate(435.7,430.3) scale(1.08,1)" text-anchor="middle">04</text><text transform="translate(488.3,430.3) scale(1.08,1)" text-anchor="middle">05</text>
<text y="453.7" style="font-size:9.33px;stroke:#000;stroke-width:0.2px"><tspan x="125.7" textLength="26.2" lengthAdjust="spacingAndGlyphs">Par'Vol</tspan> <tspan x="153.9" textLength="4.1" lengthAdjust="spacingAndGlyphs">-</tspan> <tspan x="161.4" textLength="37.0" lengthAdjust="spacingAndGlyphs">Parabolic</tspan> <tspan x="202.4" textLength="37.0" lengthAdjust="spacingAndGlyphs">Involutes</tspan> <tspan x="243.1" textLength="10.5" lengthAdjust="spacingAndGlyphs">by</tspan> <tspan x="257.0" textLength="11.1" lengthAdjust="spacingAndGlyphs">TK</tspan> <tspan x="271.5" textLength="30.0" lengthAdjust="spacingAndGlyphs">Trading</tspan> <tspan x="304.9" textLength="40.7" lengthAdjust="spacingAndGlyphs">Knowledge</tspan> <tspan x="349.5" textLength="21.8" lengthAdjust="spacingAndGlyphs">S.r.l.</tspan><tspan x="371.0" textLength="10.0" lengthAdjust="spacingAndGlyphs">---</tspan><tspan x="380.7" textLength="32.3" lengthAdjust="spacingAndGlyphs">04/10/05</tspan> <tspan x="417.2" textLength="11.2" lengthAdjust="spacingAndGlyphs">---</tspan><tspan x="429.0" textLength="22.2" lengthAdjust="spacingAndGlyphs">13:07</tspan></text>
</svg>
</body></html>
